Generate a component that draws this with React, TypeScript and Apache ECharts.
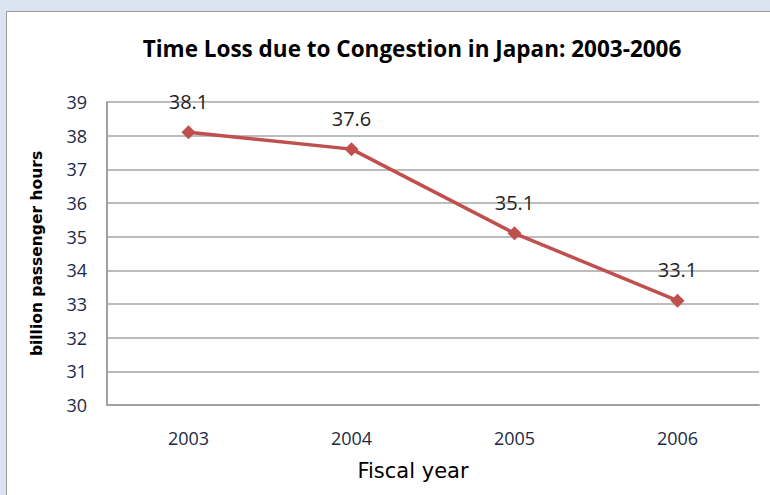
import React, { useEffect, useRef } from "react";
import * as echarts from "echarts";

const categories = ["2003", "2004", "2005", "2006"];
const values = [38.1, 37.6, 35.1, 33.1];
const yMin = 30;
const yMax = 39;

export default function App() {
  const ref = useRef<HTMLDivElement>(null);
  useEffect(() => {
    if (!ref.current) return;
    const chart = echarts.init(ref.current, undefined, { renderer: "svg" });
    chart.setOption({
      animation: false,
      backgroundColor: "#dbe5f1",
      graphic: [
        {
          type: "rect",
          shape: { x: 6.5, y: 11.5, width: 800, height: 500 },
          style: { fill: "#ffffff", stroke: "#9a9a9a", lineWidth: 1 },
          z: -10,
        },
      ],
      title: {
        text: "Time Loss due to Congestion in Japan: 2003-2006",
        left: 407,
        textAlign: "center",
        top: 32,
        textStyle: { fontFamily: "Open Sans", fontWeight: "bold", fontSize: 22.5, color: "#000000" },
      },
      grid: { left: 107, top: 102, width: 652, height: 303, containLabel: false },
      xAxis: {
        type: "category",
        data: categories,
        boundaryGap: true,
        name: "Fiscal year",
        nameLocation: "middle",
        nameGap: 55,
        nameTextStyle: {
          fontFamily: "DejaVu Sans",
          fontSize: 21,
          color: "#000000",
          padding: [0, 40, 0, 0],
        },
        axisLine: { lineStyle: { color: "#a0a0a0", width: 2 } },
        axisTick: { show: false },
        axisLabel: { margin: 24, fontFamily: "Open Sans", fontSize: 18, color: "#1c2a44" },
      },
      yAxis: {
        type: "value",
        min: yMin,
        max: yMax,
        interval: 1,
        name: "billion passenger hours",
        nameLocation: "middle",
        nameGap: 62,
        nameTextStyle: { fontFamily: "DejaVu Sans", fontWeight: "bold", fontSize: 15.5, color: "#000000" },
        axisLine: { show: true, lineStyle: { color: "#a0a0a0", width: 2 } },
        axisTick: { show: false },
        splitLine: { lineStyle: { color: "#a6a6a6", width: 1.5 } },
        axisLabel: { margin: 20, fontFamily: "Open Sans", fontSize: 18, color: "#1c2a44" },
      },
      series: [
        {
          type: "line",
          data: values,
          symbol: "diamond",
          symbolSize: 14,
          lineStyle: { color: "#c0504d", width: 3.5 },
          itemStyle: { color: "#c0504d" },
          label: {
            show: true,
            position: "top",
            distance: 14,
            fontFamily: "Open Sans",
            fontSize: 20,
            color: "#222222",
            formatter: (p: any) => p.value.toFixed(1),
          },
        },
      ],
    });
    return () => chart.dispose();
  }, []);
  return (
    <div
      ref={ref}
      style={{ position: "fixed", left: 0, top: 0, width: 770, height: 495 }}
    />
  );
}
